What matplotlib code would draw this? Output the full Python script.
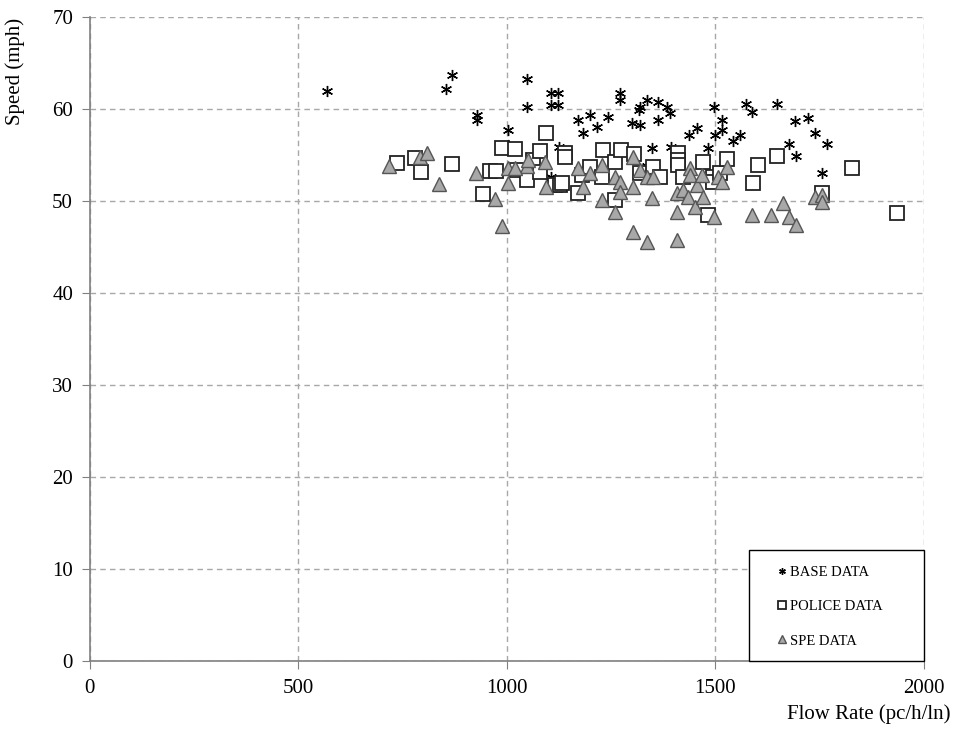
"""
Speed vs flow rate scatter (base / police / SPE data)
"""

import matplotlib
matplotlib.use('Agg')
import matplotlib.pyplot as plt  # pylint: disable=wrong-import-position
from matplotlib.patches import Rectangle  # pylint: disable=wrong-import-position

# Base data (flow rate pc/h/ln, speed mph)
base_flow = [568, 868, 854, 928, 928, 1002, 1002, 1048, 1048, 1106, 1106, 1122, 1122,
             1125, 1170, 1199, 1182, 1216, 1242, 1271, 1271, 1300, 1319, 1317, 1319,
             1336, 1362, 1362, 1384, 1391, 1348, 1393, 1436, 1456, 1482, 1496, 1516,
             1499, 1516, 1542, 1559, 1573, 1588, 1647, 1691, 1722, 1739, 1767, 1676,
             1693, 1755, 1336, 1105, 1115]
base_speed = [62.0, 63.7, 62.2, 59.3, 58.8, 57.7, 56.1, 63.3, 60.2, 61.7, 60.4, 61.7, 60.4,
              55.9, 58.8, 59.3, 57.4, 58.0, 59.1, 61.7, 61.0, 58.5, 58.3, 59.9, 60.2,
              61.0, 60.8, 58.8, 60.2, 59.6, 55.8, 55.9, 57.2, 57.9, 55.8, 60.2, 58.8,
              57.2, 57.7, 56.5, 57.2, 60.5, 59.7, 60.5, 58.7, 59.0, 57.4, 56.2, 56.2,
              54.9, 53.0, 53.8, 52.6, 52.3]

# Police data
police_flow = [736, 779, 794, 868, 943, 959, 974, 988, 1019, 1024, 1048, 1062, 1079, 1079,
               1093, 1115, 1127, 1132, 1139, 1139, 1170, 1180, 1199, 1228, 1230, 1259,
               1259, 1273, 1305, 1319, 1350, 1367, 1410, 1410, 1410, 1422, 1470, 1482,
               1494, 1494, 1511, 1528, 1590, 1602, 1647, 1755, 1827, 1935]
police_speed = [54.1, 54.7, 53.2, 54.0, 50.8, 53.3, 53.3, 55.8, 55.7, 53.4, 52.3, 54.5, 55.4, 53.2,
                57.4, 51.7, 51.7, 52.0, 55.2, 54.8, 50.9, 52.8, 53.7, 52.6, 55.5, 54.2,
                50.1, 55.5, 55.1, 53.0, 53.7, 52.6, 55.2, 54.5, 53.9, 52.6, 54.2, 48.5,
                52.6, 52.1, 53.0, 54.6, 52.0, 53.9, 54.9, 50.9, 53.6, 48.7]

# SPE data
spe_flow = [717, 791, 808, 837, 926, 971, 988, 1002, 1002, 1048, 1091, 1093, 1170, 1182,
            1199, 1228, 1228, 1259, 1259, 1271, 1271, 1302, 1302, 1302, 1319, 1336, 1336,
            1348, 1350, 1408, 1408, 1408, 1422, 1434, 1439, 1439, 1451, 1456, 1468, 1470,
            1496, 1506, 1516, 1528, 1588, 1633, 1662, 1676, 1693, 1739, 1755, 1755,
            1019, 1050]
spe_speed = [53.8, 54.8, 55.2, 51.8, 53.0, 50.2, 47.3, 53.6, 52.0, 53.8, 54.2, 51.5, 53.6, 51.5,
             53.0, 53.9, 50.1, 52.6, 48.8, 52.1, 51.0, 54.8, 51.5, 46.6, 53.4, 52.6, 45.5,
             50.3, 52.6, 50.9, 48.8, 45.8, 51.2, 50.4, 53.6, 52.8, 49.3, 51.7, 52.8, 50.4,
             48.3, 52.6, 52.1, 53.7, 48.5, 48.5, 49.8, 48.3, 47.4, 50.4, 50.7, 49.9,
             53.6, 54.5]

plt.rcParams['font.family'] = ['Liberation Serif', 'DejaVu Serif']

fig = plt.figure(figsize=(9.54, 7.44), dpi=100)
ax = fig.add_axes([0.094, 0.1116, 0.8746, 0.8656])

ax.plot(base_flow, base_speed, linestyle='none', marker=(6, 2, 0), markersize=8,
        markeredgewidth=1.0, color='black', label='BASE DATA', zorder=3)
ax.plot(police_flow, police_speed, linestyle='none', marker='s', markersize=9.5,
        markerfacecolor='white', markeredgecolor='#222222', markeredgewidth=1.3,
        label='POLICE DATA', zorder=4)
ax.plot(spe_flow, spe_speed, linestyle='none', marker='^', markersize=10.5,
        markerfacecolor='#a8a8a8', markeredgecolor='#555555', markeredgewidth=1.0,
        label='SPE DATA', zorder=5)

ax.set_xlim(0, 2000)
ax.set_ylim(0, 70)
ax.set_xticks(range(0, 2001, 500))
ax.set_yticks(range(0, 71, 10))
ax.grid(True, linestyle=(0, (4, 3)), color='#a8a8a8', linewidth=1.0)
ax.set_axisbelow(True)

for side in ('top', 'right'):
    ax.spines[side].set_visible(False)
for side in ('left', 'bottom'):
    ax.spines[side].set_color('#808080')
    ax.spines[side].set_linewidth(1.2)
ax.tick_params(direction='out', length=6, color='#808080', labelsize=15)
ax.tick_params(axis='y', pad=6)
ax.tick_params(axis='x', pad=7)

ax.set_ylabel('Speed (mph)', fontsize=15)
ax.yaxis.set_label_coords(-0.078, 0.915)
ax.set_xlabel('Flow Rate (pc/h/ln)', fontsize=15)
ax.xaxis.set_label_coords(1.032, -0.068)
ax.xaxis.label.set_horizontalalignment('right')

# legend box sits in the lower right corner of the plot area
box = Rectangle((0.79, 0.0), 0.21, 0.173, transform=ax.transAxes, facecolor='white',
                edgecolor='black', linewidth=1.0, clip_on=False, zorder=10)
ax.add_patch(box)
leg = ax.legend(loc='upper left', bbox_to_anchor=(0.824, 0.148), fontsize=10.5,
                markerscale=0.6, frameon=False, borderpad=0, labelspacing=1.45,
                handlelength=0.6, handletextpad=0.3, borderaxespad=0)
leg.set_zorder(11)

plt.savefig('out.png', dpi=100)
plt.close()
